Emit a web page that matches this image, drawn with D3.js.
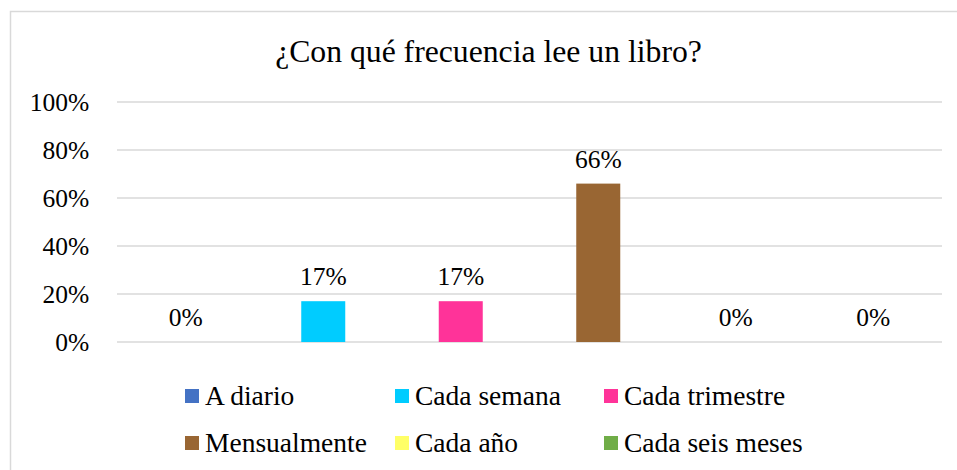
<!DOCTYPE html>
<html>
<head>
<meta charset="utf-8">
<script src="https://cdn.jsdelivr.net/npm/d3@7"></script>
<style>
  html, body { margin: 0; background: #fff; overflow: hidden; }
  svg { display: block; }
  text { font-family: "Liberation Serif", "Times New Roman", serif; fill: #000; }
</style>
</head>
<body>
<div id="chart"></div>
<script>
// data
var categories = ["A diario", "Cada semana", "Cada trimestre", "Mensualmente", "Cada año", "Cada seis meses"];
var values = [0, 17, 17, 66, 0, 0];
var colors = ["#4472C4", "#00CCFF", "#FF3399", "#996633", "#FFFF66", "#70AD47"];
var yTicks = [0, 20, 40, 60, 80, 100];
var title = "¿Con qué frecuencia lee un libro?";

var W = 957, H = 470;
var svg = d3.select("#chart").append("svg")
  .attr("width", W).attr("height", H);

// outer chart frame (runs off the right and bottom of the picture)
svg.append("rect")
  .attr("x", 10.5).attr("y", 11.5)
  .attr("width", 980).attr("height", 500)
  .attr("fill", "#fff")
  .attr("stroke", "#d9d9d9")
  .attr("stroke-width", 1.5);

svg.append("text")
  .attr("x", 488.5).attr("y", 62)
  .attr("text-anchor", "middle")
  .style("font-size", "31.7px")
  .text(title);

var x = d3.scaleBand().domain(categories).range([117, 942]).padding(0);
var y = d3.scaleLinear().domain([0, 100]).range([342, 102]);

// gridlines
svg.append("g").selectAll("line")
  .data(yTicks).enter().append("line")
  .attr("x1", 117).attr("x2", 942)
  .attr("y1", function(d) { return y(d); })
  .attr("y2", function(d) { return y(d); })
  .attr("stroke", "#d9d9d9")
  .attr("stroke-width", 1.3);

// y axis labels
var yAxis = d3.axisLeft(y).tickValues(yTicks)
  .tickFormat(function(d) { return d + "%"; })
  .tickSize(0).tickPadding(27.7);
var ya = svg.append("g").attr("transform", "translate(117,0)").call(yAxis);
ya.select(".domain").remove();
ya.selectAll("text")
  .attr("fill", "#000")
  .style("font-size", "25.5px")
  .style("font-family", '"Liberation Serif", "Times New Roman", serif');

var bw = 44;
svg.append("g").selectAll("rect")
  .data(values).enter().append("rect")
  .attr("x", function(d, i) { return x(categories[i]) + x.bandwidth() / 2 - bw / 2; })
  .attr("y", function(d) { return y(d); })
  .attr("width", bw)
  .attr("height", function(d) { return y(0) - y(d); })
  .attr("fill", function(d, i) { return colors[i]; });

svg.append("g").selectAll("text")
  .data(values).enter().append("text")
  .attr("x", function(d, i) { return x(categories[i]) + x.bandwidth() / 2; })
  .attr("y", function(d) { return y(d) - 16; })
  .attr("text-anchor", "middle")
  .style("font-size", "25.5px")
  .text(function(d) { return d + "%"; });

// legend, 3 columns x 2 rows
var legCols = [185, 395, 604];
var legRows = [389, 436];
var leg = svg.append("g").selectAll("g")
  .data(categories).enter().append("g")
  .attr("transform", function(d, i) {
    return "translate(" + legCols[i % 3] + "," + legRows[Math.floor(i / 3)] + ")";
  });
leg.append("rect")
  .attr("width", 14).attr("height", 14)
  .attr("fill", function(d, i) { return colors[i]; });
leg.append("text")
  .attr("x", 20).attr("y", 16)
  .style("font-size", "27.5px")
  .text(function(d) { return d; });
</script>
</body>
</html>
